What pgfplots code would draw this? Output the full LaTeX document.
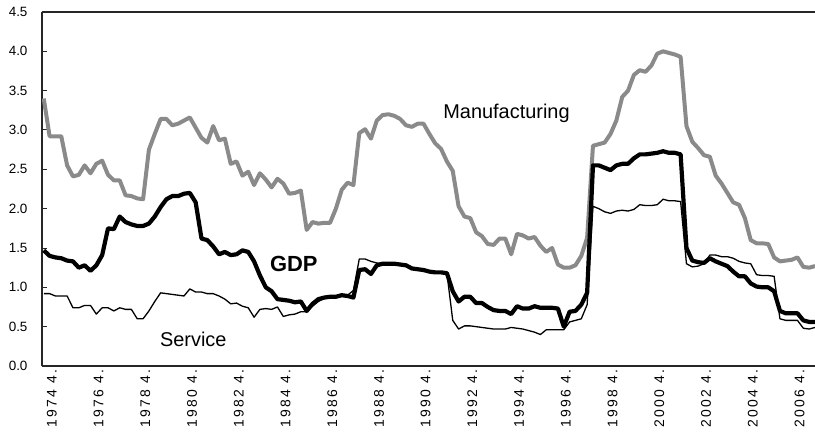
\documentclass[border=0pt]{standalone}
\usepackage{pgfplots}
\pgfplotsset{compat=1.18}
\usepackage{pgfplotstable}
\usepackage{fontspec}
\setmainfont{Liberation Sans}
\newfontfamily\xlabfont[LetterSpace=16]{Liberation Sans}
\definecolor{mfg}{RGB}{138,138,138}

% quarterly index q = 0 is 1974 4.; M = manufacturing, G = GDP, S = service
\pgfplotstableread{
q M G S
0 3.40 1.47 0.92
1 2.92 1.40 0.92
2 2.92 1.38 0.89
3 2.92 1.37 0.89
4 2.55 1.34 0.89
5 2.41 1.33 0.74
6 2.43 1.25 0.74
7 2.55 1.28 0.77
8 2.45 1.21 0.77
9 2.57 1.28 0.66
10 2.61 1.41 0.74
11 2.43 1.75 0.74
12 2.36 1.74 0.70
13 2.36 1.90 0.74
14 2.17 1.83 0.72
15 2.16 1.80 0.72
16 2.13 1.78 0.60
17 2.12 1.78 0.60
18 2.75 1.81 0.70
19 2.95 1.90 0.82
20 3.14 2.02 0.93
21 3.14 2.12 0.92
22 3.06 2.16 0.91
23 3.08 2.16 0.90
24 3.12 2.19 0.89
25 3.16 2.20 0.98
26 3.03 2.08 0.94
27 2.90 1.62 0.94
28 2.84 1.60 0.92
29 3.05 1.52 0.92
30 2.87 1.42 0.89
31 2.89 1.45 0.85
32 2.57 1.41 0.79
33 2.60 1.42 0.80
34 2.42 1.47 0.76
35 2.47 1.45 0.74
36 2.30 1.33 0.62
37 2.45 1.15 0.72
38 2.37 1.00 0.73
39 2.27 0.95 0.72
40 2.38 0.85 0.75
41 2.32 0.84 0.63
42 2.19 0.83 0.65
43 2.20 0.81 0.66
44 2.23 0.82 0.69
45 1.73 0.70 0.69
46 1.83 0.79 0.76
47 1.81 0.85 0.82
48 1.82 0.87 0.86
49 1.82 0.88 0.87
50 2.00 0.88 0.89
51 2.24 0.90 0.91
52 2.33 0.89 0.90
53 2.30 0.87 0.96
54 2.96 1.22 1.36
55 3.01 1.23 1.36
56 2.89 1.17 1.33
57 3.12 1.28 1.31
58 3.19 1.30 1.30
59 3.20 1.30 1.30
60 3.18 1.30 1.30
61 3.14 1.29 1.29
62 3.06 1.28 1.28
63 3.04 1.24 1.24
64 3.08 1.23 1.23
65 3.08 1.22 1.22
66 2.95 1.20 1.20
67 2.83 1.19 1.19
68 2.76 1.19 1.18
69 2.60 1.18 1.18
70 2.48 0.95 0.58
71 2.03 0.82 0.47
72 1.90 0.88 0.51
73 1.88 0.88 0.51
74 1.70 0.80 0.50
75 1.65 0.80 0.49
76 1.55 0.75 0.48
77 1.54 0.71 0.47
78 1.62 0.70 0.47
79 1.62 0.70 0.47
80 1.42 0.66 0.49
81 1.68 0.76 0.48
82 1.66 0.73 0.47
83 1.62 0.73 0.45
84 1.64 0.76 0.43
85 1.53 0.74 0.40
86 1.45 0.74 0.46
87 1.50 0.74 0.46
88 1.29 0.73 0.46
89 1.25 0.50 0.46
90 1.25 0.69 0.56
91 1.28 0.70 0.58
92 1.40 0.78 0.60
93 1.63 0.93 0.78
94 2.80 2.55 2.03
95 2.82 2.55 2.00
96 2.84 2.52 1.96
97 2.95 2.49 1.94
98 3.12 2.55 1.97
99 3.42 2.57 1.98
100 3.50 2.57 1.97
101 3.70 2.64 1.99
102 3.76 2.69 2.05
103 3.74 2.69 2.04
104 3.82 2.70 2.04
105 3.97 2.71 2.05
106 4.00 2.73 2.12
107 3.98 2.71 2.10
108 3.96 2.71 2.10
109 3.93 2.69 2.09
110 3.05 1.50 1.30
111 2.85 1.34 1.26
112 2.77 1.32 1.27
113 2.68 1.31 1.30
114 2.66 1.37 1.41
115 2.42 1.33 1.41
116 2.32 1.30 1.39
117 2.20 1.27 1.39
118 2.08 1.20 1.37
119 2.05 1.14 1.33
120 1.88 1.14 1.31
121 1.60 1.05 1.30
122 1.56 1.01 1.16
123 1.56 1.00 1.15
124 1.55 1.00 1.15
125 1.38 0.95 1.14
126 1.33 0.70 0.60
127 1.34 0.67 0.58
128 1.35 0.67 0.58
129 1.38 0.67 0.58
130 1.26 0.58 0.48
131 1.25 0.56 0.47
132 1.27 0.56 0.49
}\growth

\pgfplotsset{every non boxed y axis/.style={}}

\begin{document}
\begin{tikzpicture}
\begin{axis}[
    at={(0,0)}, anchor=south west,
    scale only axis,
    width=773bp, height=354bp,
    xmin=-0.3, xmax=132,
    ymin=0, ymax=4.5,
    enlargelimits=false,
    axis x line=box,
    axis y line=left,
    axis line style={-, line width=1.2bp, black!85},
    ytick={0,0.5,1,1.5,2,2.5,3,3.5,4,4.5},
    /pgf/number format/assume math mode=true,
    yticklabel style={/pgf/number format/fixed, /pgf/number format/fixed zerofill,
        /pgf/number format/precision=1, font=\fontsize{13.5}{16}\selectfont, xshift=-11bp},
    ytick align=inside,
    major tick length=4.5bp,
    ytick style={line width=1bp, black!85},
    xtick={0,8,16,24,32,40,48,56,64,72,80,88,96,104,112,120,128},
    xticklabels={1974 4.,1976 4.,1978 4.,1980 4.,1982 4.,1984 4.,1986 4.,1988 4.,1990 4.,1992 4.,1994 4.,1996 4.,1998 4.,2000 4.,2002 4.,2004 4.,2006 4.},
    xtick style={draw=none},
    x tick label style={rotate=90, anchor=east, yshift=-8bp, font=\xlabfont\fontsize{14}{16}\selectfont},
    line join=round,
]
\addplot[mfg, line width=4bp] table[x=q, y=M] {\growth};
\addplot[black, line width=1.3bp] table[x=q, y=S] {\growth};
\addplot[black, line width=4.2bp] table[x=q, y=G] {\growth};

\node[anchor=base, font=\fontsize{20}{24}\selectfont] at (axis cs:79.2,3.14) {Manufacturing};
\node[anchor=base, font=\bfseries\fontsize{22}{26}\selectfont] at (axis cs:42.8,1.20) {GDP};
\node[anchor=base, font=\fontsize{20}{24}\selectfont] at (axis cs:25.6,0.25) {Service};
\end{axis}
\pgfresetboundingbox
\path[use as bounding box] (-42bp,-72bp) rectangle (773bp,366bp);
\end{tikzpicture}
\end{document}
